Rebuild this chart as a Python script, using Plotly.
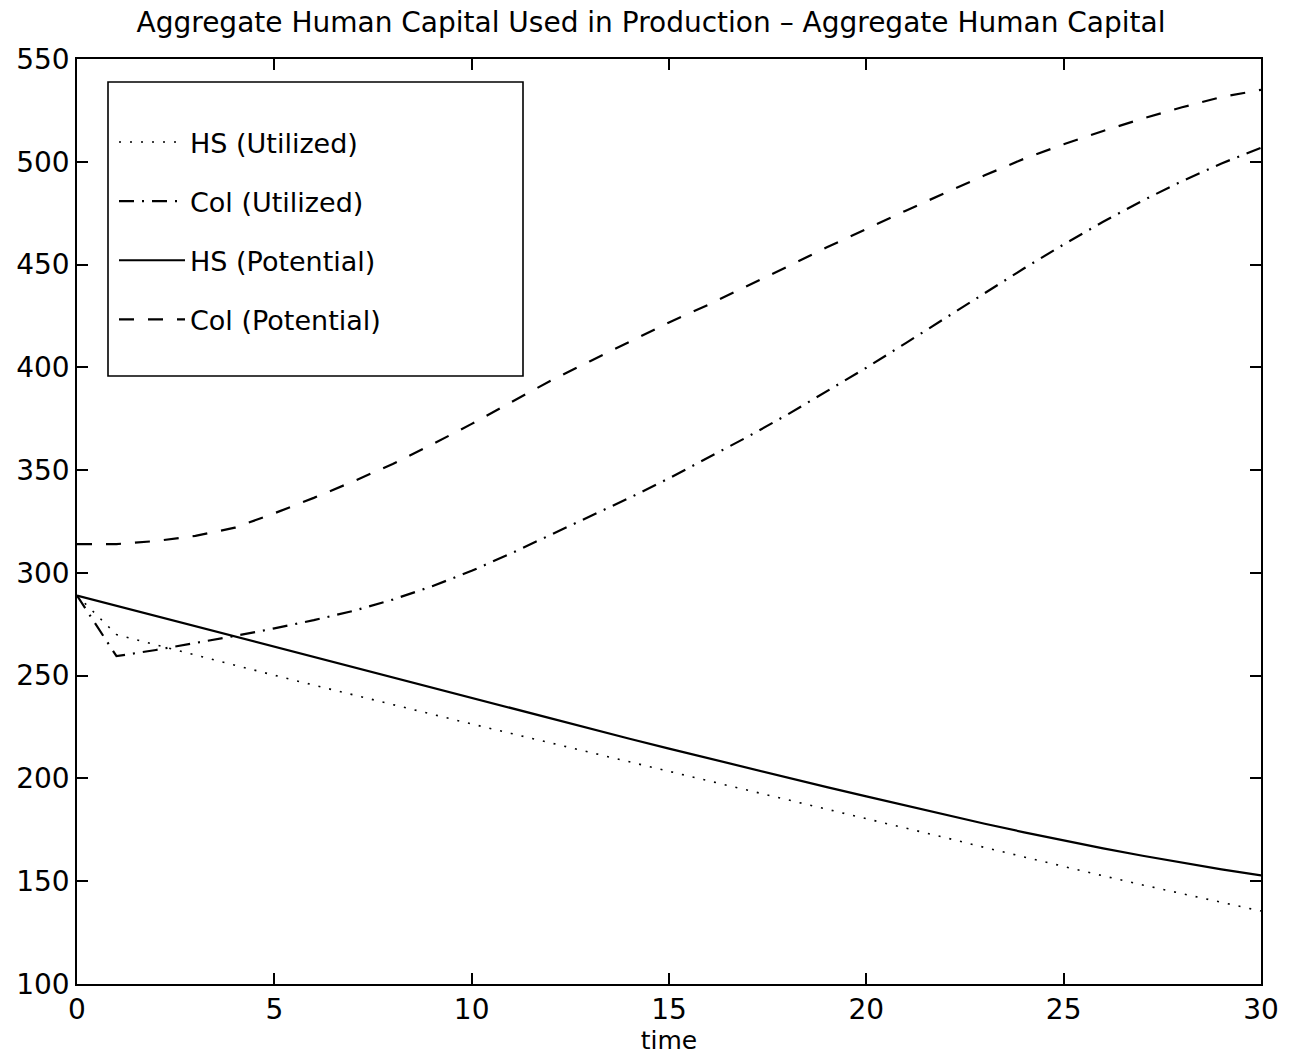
import plotly.graph_objects as go

# Time grid and the four aggregate human-capital series
time = list(range(0, 31))

hs_utilized = [289, 270, 265, 260, 255, 250.2, 245.4, 240.6, 235.9, 231.2,
               226.5, 221.9, 217.3, 212.7, 208.1, 203.6, 199.0, 194.4, 189.8, 185.2,
               180.6, 176.0, 171.2, 166.4, 161.7, 157.1, 152.6, 148.2, 143.9, 139.7,
               135.5]

col_utilized = [289, 259.5, 262.5, 265.8, 269.3, 273.0, 277.0, 281.5, 287.0, 293.5,
                301.0, 309.5, 318.5, 327.5, 336.5, 346.0, 356.0, 366.3, 377.0, 388.2,
                399.8, 411.8, 424.0, 436.2, 448.2, 459.8, 470.8, 481.1, 490.6, 499.2,
                506.8]

hs_potential = [289, 284, 279, 274, 269, 264, 259, 254, 249, 244,
                239, 234, 229.05, 224.15, 219.3, 214.5, 209.75, 205.05, 200.4, 195.8,
                191.25, 186.7, 182.25, 177.95, 173.8, 169.8, 166.0, 162.4, 159.0, 155.8,
                152.8]

col_potential = [314, 314, 315.5, 318, 322, 329, 336.5, 344.5, 353, 362.5,
                 372.5, 383, 393.5, 403, 412.6, 421.8, 430.5, 439.6, 449, 458.4,
                 467.4, 476.2, 484.9, 493.4, 501.5, 508.5, 515, 521, 526.5, 531.5,
                 535]

series_names = ["HS (Utilized)", "Col (Utilized)", "HS (Potential)", "Col (Potential)"]
x_ticks = [0, 5, 10, 15, 20, 25, 30]
y_ticks = [100, 150, 200, 250, 300, 350, 400, 450, 500, 550]

FONT = "DejaVu Sans"

styles = [
    dict(width=1.6, dash="2px,9px"),
    dict(width=2.2, dash="15px,8px,2px,8px"),
    dict(width=2.2, dash="solid"),
    dict(width=2.2, dash="15px,14px"),
]

fig = go.Figure()
for i, (name, ys) in enumerate(zip(series_names,
                                   [hs_utilized, col_utilized, hs_potential, col_potential])):
    fig.add_trace(go.Scatter(
        x=time, y=ys, mode="lines", name=name,
        legendgroup=f"g{i}",
        line=dict(color="black", width=styles[i]["width"], dash=styles[i]["dash"]),
    ))

axis_common = dict(
    showgrid=False, zeroline=False,
    showline=True, linecolor="black", linewidth=1.6,
    mirror="ticks", ticks="inside", ticklen=11, tickwidth=1.6, tickcolor="black",
    tickfont=dict(family=FONT, size=28, color="black"),
)

fig.update_xaxes(range=[0, 30], tickvals=x_ticks, ticktext=[str(v) for v in x_ticks],
                 title=dict(text="time", font=dict(family=FONT, size=25, color="black"),
                            standoff=6),
                 **axis_common)
fig.update_yaxes(range=[100, 550], tickvals=y_ticks, ticktext=[str(v) for v in y_ticks],
                 **axis_common)

# Box drawn around the legend
fig.add_shape(type="rect", xref="paper", yref="paper",
              x0=(108 - 77) / 1184, x1=(523 - 77) / 1184,
              y0=(984 - 376) / 925, y1=(984 - 82) / 925,
              line=dict(color="black", width=1.6), fillcolor="white", layer="above")

fig.update_layout(
    width=1298, height=1061,
    margin=dict(l=77, r=37, t=59, b=77),
    paper_bgcolor="white", plot_bgcolor="white",
    title=dict(text="Aggregate Human Capital Used in Production \u2013 Aggregate Human Capital",
               x=651 / 1298, xanchor="center", y=1 - 22 / 1061, yanchor="middle",
               font=dict(family=FONT, size=28, color="black")),
    showlegend=True,
    legend=dict(x=(114 - 77) / 1184, y=(984 - 118) / 925, xanchor="left", yanchor="top",
                bgcolor="rgba(0,0,0,0)", borderwidth=0,
                font=dict(family=FONT, size=27, color="black"),
                itemwidth=66, tracegroupgap=21, traceorder="grouped"),
)

fig.write_html("out.html")
